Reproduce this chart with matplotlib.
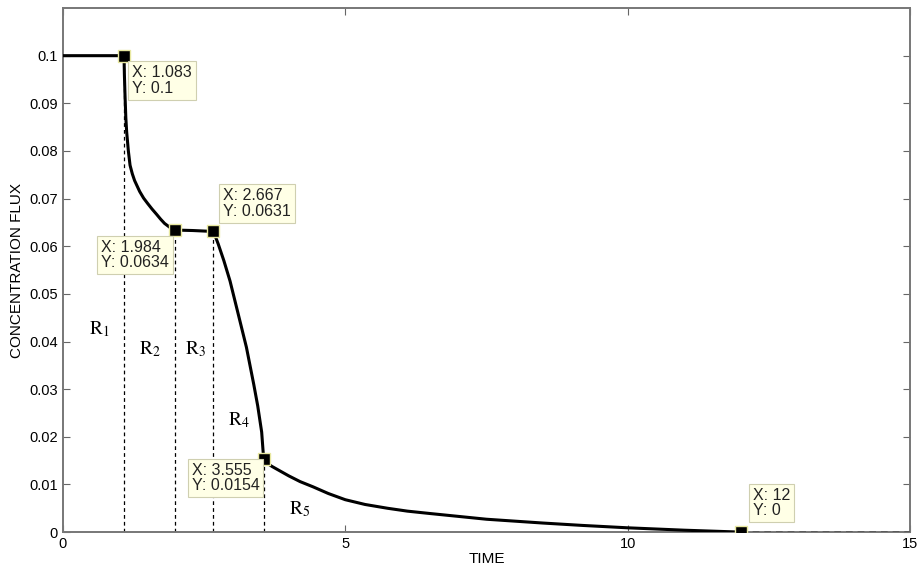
import matplotlib.pyplot as plt
import numpy as np

plt.rcParams['font.family'] = ['Liberation Sans', 'DejaVu Sans']
plt.rcParams['mathtext.fontset'] = 'stix'

# curve
t_vals = [0.0, 1.083, 1.09, 1.10, 1.115, 1.13, 1.16, 1.19, 1.23, 1.27, 1.36, 1.43,
          1.50, 1.58, 1.66, 1.73, 1.80, 1.89, 1.984,
          2.30, 2.667, 2.75, 2.85, 2.96, 3.10, 3.25, 3.38, 3.45, 3.52, 3.555,
          3.60, 3.70, 3.85, 4.00, 4.20, 4.43, 4.70, 5.00, 5.35, 5.75, 6.10, 6.50,
          7.00, 7.50, 8.00, 8.50, 9.20, 10.0, 11.0, 12.0]
c_vals = [0.1, 0.1, 0.096, 0.092, 0.087, 0.084, 0.080, 0.077, 0.0752, 0.0738, 0.0715, 0.0701,
          0.069, 0.0678, 0.0667, 0.0657, 0.0648, 0.0640, 0.0634,
          0.0633, 0.0631, 0.0605, 0.0570, 0.0527, 0.046, 0.0388, 0.031, 0.0265, 0.021, 0.0154,
          0.0146, 0.0138, 0.0128, 0.0118, 0.0106, 0.0095, 0.0081, 0.0068, 0.0058, 0.0050, 0.0044, 0.0039,
          0.0033, 0.0027, 0.0023, 0.0019, 0.0014, 0.0009, 0.0004, 0.0]

# data tips
tip_x = [1.083, 1.984, 2.667, 3.555, 12]
tip_y = [0.1, 0.0634, 0.0631, 0.0154, 0]
tip_lbl = ['X: 1.083\nY: 0.1', 'X: 1.984\nY: 0.0634', 'X: 2.667\nY: 0.0631',
           'X: 3.555\nY: 0.0154', 'X: 12\nY: 0']
tip_off = [(6, -7), (-4, -7), (7, 9), (-3, -3), (9, 10)]
tip_ha = ['left', 'right', 'left', 'right', 'left']
tip_va = ['top', 'top', 'bottom', 'top', 'bottom']

# region labels
reg_lbl = ['$\\mathrm{R}_1$', '$\\mathrm{R}_2$', '$\\mathrm{R}_3$', '$\\mathrm{R}_4$', '$\\mathrm{R}_5$']
reg_x = [0.65, 1.55, 2.35, 3.12, 4.20]
reg_y = [0.0425, 0.0385, 0.0385, 0.0235, 0.0048]

fig = plt.figure(figsize=(9.24, 5.74), dpi=100)
ax = fig.add_axes([0.068, 0.073, 0.917, 0.913])

ax.plot(t_vals, c_vals, color='black', lw=2.2, zorder=3, solid_joinstyle='round')
ax.plot([12, 15], [0, 0], color='#555555', lw=1.2, ls=(0, (4, 3)), zorder=3)

for x, y in zip(tip_x[:4], tip_y[:4]):
    ax.plot([x, x], [0, y], color='black', lw=0.9, ls=(0, (3, 2.5)), zorder=2)

ax.plot(tip_x, tip_y, ls='none', marker='s', ms=8, mfc='black', mec='#e8e8a0', mew=1.0, zorder=5)

for x, y, s, off, ha, va in zip(tip_x, tip_y, tip_lbl, tip_off, tip_ha, tip_va):
    ax.annotate(s, (x, y), xytext=off, textcoords='offset points', fontsize=11.5,
                va=va, ha=ha, multialignment='left', color='#222222', linespacing=1.05, zorder=6,
                bbox=dict(boxstyle='square,pad=0.25', fc='#ffffe6', ec='#cfcfb0', lw=0.8))

for s, x, y in zip(reg_lbl, reg_x, reg_y):
    ax.text(x, y, s, fontsize=14, ha='center', va='center')

ax.set_xlim(0, 15)
ax.set_ylim(0, 0.11)
ax.set_xticks([0, 5, 10, 15])
ax.set_yticks(np.arange(0, 0.101, 0.01))
ax.set_yticklabels(['0', '0.01', '0.02', '0.03', '0.04', '0.05', '0.06', '0.07', '0.08', '0.09', '0.1'])
ax.tick_params(direction='in', top=True, right=True, length=5, labelsize=10.5, color='#666666')
for sp in ax.spines.values():
    sp.set_color('#777777')
    sp.set_linewidth(1.4)

ax.set_xlabel('TIME', fontsize=11, labelpad=1)
ax.set_ylabel('CONCENTRATION FLUX', fontsize=11, labelpad=4)

fig.savefig('out.png', dpi=100)
